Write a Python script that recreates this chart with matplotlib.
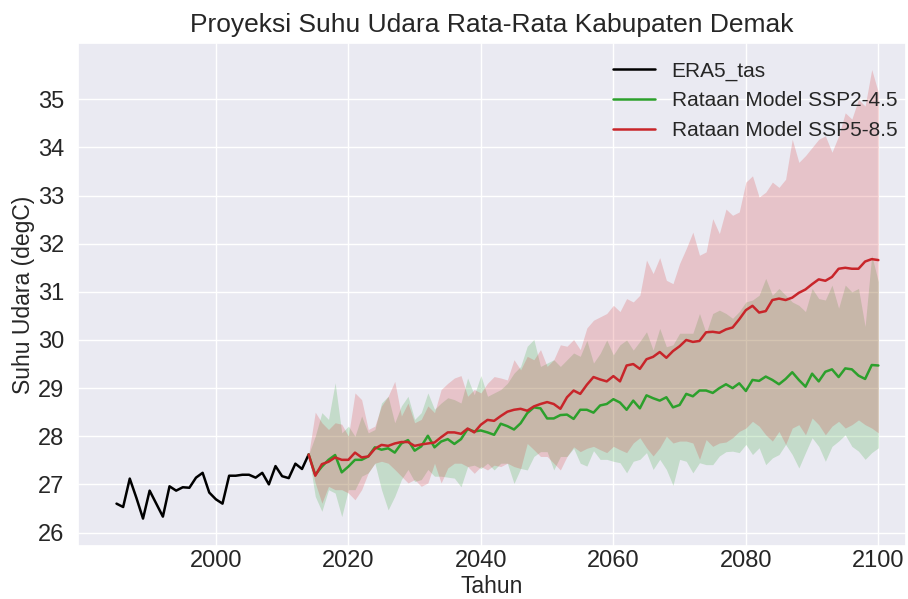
import numpy as np
import matplotlib
matplotlib.use("Agg")
import matplotlib.pyplot as plt
import seaborn as sns

# ERA5 observasi 1985-2014
era5_years = list(range(1985, 2015))
era5_tas = [26.60, 26.53, 27.12, 26.72, 26.29, 26.87, 26.60, 26.33, 26.96, 26.87,
            26.94, 26.93, 27.14, 27.24, 26.83, 26.69, 26.60, 27.18, 27.18, 27.20,
            27.20, 27.14, 27.24, 27.00, 27.38, 27.17, 27.13, 27.43, 27.32, 27.62]

# proyeksi 2014-2100
proj_years = list(range(2014, 2101))
ssp245_mean = [27.62, 27.20, 27.37, 27.51, 27.61, 27.25, 27.37, 27.51, 27.51, 27.58,
               27.77, 27.72, 27.75, 27.66, 27.85, 27.92, 27.70, 27.79, 28.01, 27.77,
               27.89, 27.94, 27.84, 27.94, 28.15, 28.10, 28.12, 28.08, 28.03, 28.26,
               28.21, 28.14, 28.27, 28.48, 28.60, 28.58, 28.37, 28.37, 28.44, 28.45,
               28.36, 28.55, 28.55, 28.49, 28.64, 28.67, 28.77, 28.70, 28.55, 28.74,
               28.58, 28.85, 28.79, 28.74, 28.81, 28.60, 28.65, 28.88, 28.83, 28.95,
               28.95, 28.90, 29.00, 29.08, 29.00, 29.10, 28.94, 29.17, 29.15, 29.24,
               29.17, 29.08, 29.19, 29.33, 29.17, 29.03, 29.30, 29.14, 29.34, 29.39,
               29.23, 29.41, 29.39, 29.26, 29.19, 29.48, 29.47]
ssp245_max = [27.62, 28.00, 28.49, 28.35, 29.11, 28.07, 28.21, 28.00, 28.42, 28.07,
              28.14, 28.69, 28.83, 28.28, 28.63, 28.83, 28.35, 28.49, 28.90, 28.56,
              28.69, 28.80, 28.76, 28.69, 29.21, 28.86, 29.26, 28.83, 28.90, 28.97,
              29.10, 29.31, 29.45, 29.87, 30.01, 29.45, 29.52, 29.59, 29.45, 29.59,
              29.73, 29.66, 29.99, 29.52, 29.72, 30.00, 29.69, 29.90, 30.00, 29.79,
              29.97, 30.17, 29.79, 30.24, 29.86, 29.90, 30.14, 30.14, 30.14, 30.55,
              30.14, 30.55, 30.62, 30.55, 30.45, 30.59, 30.79, 30.83, 30.93, 31.28,
              30.93, 31.07, 30.93, 30.79, 30.72, 30.59, 31.07, 30.86, 30.83, 31.14,
              30.66, 31.14, 31.00, 31.07, 30.28, 31.76, 31.21]
ssp245_min = [27.62, 26.75, 26.44, 26.89, 26.82, 26.33, 26.89, 26.89, 27.17, 27.24,
              27.44, 26.89, 26.47, 26.75, 27.10, 27.31, 27.06, 27.10, 27.31, 27.17,
              27.17, 27.15, 27.13, 26.95, 27.37, 27.40, 27.33, 27.44, 27.30, 27.44,
              27.44, 27.02, 27.33, 27.30, 27.58, 27.68, 27.68, 27.30, 27.58, 27.58,
              27.75, 27.44, 27.38, 27.70, 27.52, 27.52, 27.48, 27.45, 27.24, 27.48,
              27.52, 27.66, 27.31, 27.52, 27.31, 26.98, 27.52, 27.48, 27.24, 27.45,
              27.41, 27.41, 27.59, 27.68, 27.69, 27.66, 27.83, 27.62, 27.76, 27.41,
              27.55, 27.62, 27.83, 27.62, 27.34, 27.66, 27.97, 27.79, 27.48, 27.79,
              27.90, 28.03, 27.79, 27.69, 27.52, 27.66, 27.76]

ssp585_mean = [27.62, 27.18, 27.42, 27.47, 27.56, 27.51, 27.51, 27.66, 27.56, 27.58,
               27.74, 27.82, 27.80, 27.85, 27.88, 27.88, 27.80, 27.83, 27.85, 27.87,
               27.98, 28.08, 28.08, 28.05, 28.16, 28.08, 28.24, 28.34, 28.32, 28.42,
               28.51, 28.55, 28.57, 28.53, 28.62, 28.67, 28.71, 28.67, 28.57, 28.81,
               28.95, 28.88, 29.07, 29.23, 29.18, 29.14, 29.25, 29.14, 29.47, 29.50,
               29.40, 29.60, 29.65, 29.75, 29.63, 29.77, 29.87, 30.00, 29.96, 29.98,
               30.16, 30.17, 30.15, 30.22, 30.26, 30.43, 30.62, 30.71, 30.57, 30.60,
               30.83, 30.86, 30.83, 30.88, 30.98, 31.05, 31.16, 31.26, 31.23, 31.31,
               31.48, 31.50, 31.48, 31.48, 31.63, 31.68, 31.66]
ssp585_max = [27.62, 28.50, 28.28, 28.14, 28.28, 28.25, 28.00, 28.90, 28.76, 28.14,
              28.21, 28.63, 28.83, 29.14, 28.42, 28.69, 28.28, 28.35, 28.63, 28.49,
              28.97, 29.10, 29.21, 29.26, 28.83, 28.97, 28.90, 29.10, 29.24, 29.21,
              29.17, 29.59, 29.38, 29.66, 29.59, 29.80, 29.45, 29.59, 29.90, 29.87,
              30.01, 29.80, 30.25, 30.41, 30.48, 30.55, 30.72, 30.59, 30.86, 30.79,
              30.93, 31.66, 31.38, 31.71, 31.24, 31.17, 31.59, 31.90, 32.24, 31.76,
              31.83, 32.52, 32.21, 32.72, 32.59, 32.66, 33.28, 33.41, 32.97, 33.07,
              33.28, 33.17, 33.34, 34.17, 33.69, 33.83, 34.00, 34.17, 34.24, 33.90,
              34.24, 34.72, 34.59, 35.00, 34.86, 35.62, 35.14]
ssp585_min = [27.62, 27.03, 26.61, 26.96, 26.89, 26.89, 26.82, 26.68, 26.89, 27.24,
              27.44, 27.48, 27.44, 27.31, 27.17, 27.03, 27.10, 26.96, 27.03, 27.44,
              27.03, 27.34, 27.44, 27.44, 27.37, 27.23, 27.37, 27.30, 27.40, 27.37,
              27.44, 27.37, 27.33, 27.85, 27.72, 27.58, 27.58, 27.44, 27.30, 27.58,
              27.78, 27.68, 27.75, 27.79, 27.72, 27.66, 27.79, 27.72, 27.66, 27.86,
              27.97, 27.76, 27.59, 27.76, 28.00, 27.86, 27.90, 27.90, 27.86, 27.52,
              27.93, 27.79, 27.86, 27.88, 27.97, 28.10, 28.17, 28.31, 28.21, 28.03,
              27.90, 28.10, 27.83, 28.17, 28.24, 28.03, 28.38, 28.24, 28.03, 28.21,
              28.31, 28.17, 28.24, 28.34, 28.24, 28.17, 28.07]

x_ticks = [2000, 2020, 2040, 2060, 2080, 2100]
y_ticks = [26, 27, 28, 29, 30, 31, 32, 33, 34, 35]

sns.set_theme(style="darkgrid")
plt.rcParams['font.family'] = ['Liberation Sans', 'DejaVu Sans']

fig = plt.figure(figsize=(9.08, 5.99), dpi=100)
ax = fig.add_axes([0.086, 0.0885, 0.912, 0.8397])

ax.plot(era5_years, era5_tas, color='black', lw=1.8, label='ERA5_tas')
ax.plot(proj_years, ssp245_mean, color='tab:green', lw=1.8, label='Rataan Model SSP2-4.5')
ax.fill_between(proj_years, ssp245_min, ssp245_max, color='tab:green', alpha=0.2, lw=0)
ax.plot(proj_years, ssp585_mean, color='#c8252a', lw=1.8, label='Rataan Model SSP5-8.5')
ax.fill_between(proj_years, ssp585_min, ssp585_max, color='tab:red', alpha=0.2, lw=0)

ax.set_xlim(1979.2, 2104.2)
ax.set_ylim(25.72, 36.17)
ax.set_xticks(x_ticks)
ax.set_yticks(y_ticks)
ax.tick_params(labelsize=17)
ax.tick_params(axis='x', length=0, pad=3)
ax.tick_params(axis='y', length=0, pad=10)
ax.set_xlabel('Tahun', fontsize=16.5, labelpad=2)
ax.set_ylabel('Suhu Udara (degC)', fontsize=16.5, labelpad=2)
ax.set_title('Proyeksi Suhu Udara Rata-Rata Kabupaten Demak', fontsize=19, pad=8)
ax.legend(loc='upper right', fontsize=15, frameon=False, bbox_to_anchor=(1.012, 1.0))

fig.savefig('out.png', dpi=100)
